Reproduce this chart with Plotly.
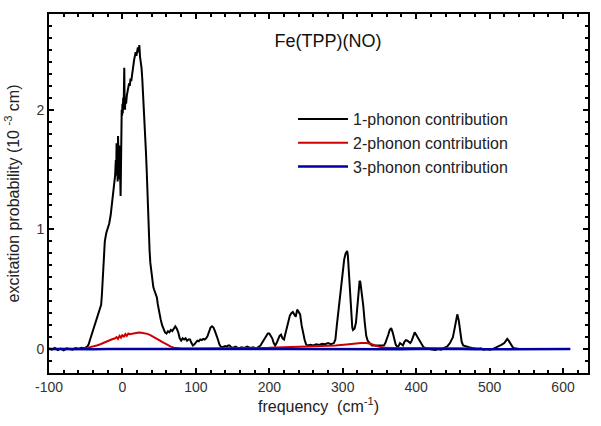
import plotly.graph_objects as go

# ---------------- data ----------------
one_x = [-100,-96,-92,-88,-84,-80,-76,-72,-68,-64,-60,-56,-52,
         -48,-46,-44,-42,-40,-38,-36,-34,-32,-30,-29,-28,-27,-26,-25,-24,-22,-20,-18,-16,-15,-14,-13,-12,-11,-10,
         -9,-8.5,-8,-7.5,-7,-6.5,-6,-5.5,-5,-4.5,-4,-3.5,-3,-2.5,-2,-1.5,-1,-0.5,0,0.5,1,1.5,2,2.5,3,3.5,4,5,6,7,8,9,10,
         11,12,13,14,15,16,17,18,19,20,21,22,23,24,25,26,27,28,29,30,31,32,33,34,35,36,37,38,40,42,43,45,47,48,50,
         52,54,56,58,60,62,64,66,68,70,72,74,76,78,80,82,84,86,88,90,92,94,96,98,100,102,104,106,108,110,112,114,116,
         118,120,122,124,126,128,130,132,134,136,138,140,142,144,146,148,150,154,158,162,166,170,174,178,182,186,188,
         190,192,194,196,198,200,202,204,206,208,210,212,214,216,218,220,222,224,226,228,230,232,234,236,238,240,242,
         244,246,248,250,252,256,260,264,268,272,276,280,284,288,290,292,294,296,298,300,302,304,306,307,308,309,310,
         311,312,313,314,316,318,320,322,323,324,326,328,330,332,334,336,338,340,344,348,352,356,358,360,362,364,366,
         368,370,372,374,376,378,380,382,384,386,388,390,392,394,396,398,400,402,404,406,408,410,414,418,422,426,430,
         434,438,442,446,448,450,452,454,456,458,460,462,464,468,472,476,480,484,488,492,496,500,504,508,512,516,520,
         522,524,526,528,530,532,536,540]
one_y = [0.005,-0.005,0.01,-0.008,0.004,-0.01,0.006,0.0,-0.006,0.008,0.002,0.01,0.006,
         0.02,0.04,0.08,0.12,0.16,0.2,0.23,0.27,0.3,0.34,0.37,0.45,0.58,0.70,0.83,0.9,0.97,1.01,1.05,1.12,1.18,1.26,1.32,1.38,1.42,1.45,
         1.58,1.45,1.72,1.5,1.65,1.40,1.78,1.55,1.75,1.42,1.7,1.3,1.6,1.28,1.5,1.9,2.0,1.95,2.05,1.97,2.1,2.0,2.15,2.35,2.05,2.0,2.1,2.05,2.12,2.15,2.18,2.22,2.2,
         2.26,2.24,2.3,2.32,2.38,2.42,2.45,2.48,2.45,2.5,2.52,2.48,2.54,2.44,2.40,2.35,2.26,2.15,2.07,1.95,1.8,1.65,1.5,1.3,1.12,0.95,0.82,0.72,0.6,0.52,0.50,0.46,0.43,0.38,0.3,
         0.25,0.2,0.16,0.14,0.13,0.15,0.14,0.16,0.15,0.17,0.19,0.17,0.14,0.09,0.07,0.09,0.08,0.09,0.07,0.08,0.08,0.05,0.03,0.04,0.06,0.07,0.065,0.08,0.075,0.085,0.08,0.09,0.11,
         0.15,0.18,0.19,0.18,0.15,0.12,0.08,0.04,0.02,0.015,0.02,0.025,0.02,0.03,0.03,0.015,0.01,0.02,0.005,0.015,0.01,0.02,0.01,0.015,0.005,0.02,0.03,
         0.05,0.07,0.09,0.11,0.13,0.13,0.11,0.09,0.05,0.03,0.05,0.09,0.11,0.12,0.09,0.08,0.13,0.18,0.24,0.28,0.30,0.31,0.29,0.27,0.33,0.31,0.29,
         0.2,0.13,0.08,0.04,0.03,0.035,0.03,0.04,0.035,0.045,0.04,0.05,0.04,0.05,0.08,0.2,0.32,0.45,0.57,0.66,0.75,0.8,0.82,0.78,0.66,0.55,0.42,
         0.34,0.25,0.18,0.16,0.17,0.22,0.35,0.52,0.57,0.56,0.48,0.36,0.22,0.11,0.07,0.05,0.04,0.03,0.03,0.025,0.03,0.03,0.05,0.08,0.12,0.16,0.175,
         0.14,0.08,0.04,0.02,0.025,0.05,0.04,0.03,0.06,0.075,0.07,0.06,0.05,0.07,0.1,0.14,0.12,0.1,0.07,0.05,0.03,0.015,0.005,0.0,-0.005,-0.008,0.0,
         -0.005,0.01,0.02,0.05,0.08,0.1,0.16,0.24,0.29,0.24,0.13,0.06,0.03,0.02,0.015,0.01,0.005,0.0,0.005,-0.005,0.0,-0.005,0.0,0.01,0.02,0.035,0.05,
         0.07,0.085,0.07,0.05,0.02,0.01,0.005,0.0]

two_x = [-100,-80,-60,-55,-52,-48,-44,-40,-35,-30,-25,-20,-15,-10,-8,-6,-4,-2,0,2,4,6,8,10,14,18,22,26,30,34,38,42,46,50,
         54,58,62,66,70,75,80,100,150,200,240,270,290,305,315,325,332,338,344,350,356,370,400,450,490]
two_y = [0.0,0.0,0.0,0.0,0.005,0.01,0.015,0.02,0.03,0.04,0.055,0.07,0.08,0.09,0.1,0.085,0.11,0.095,0.12,0.1,0.125,0.11,0.13,0.125,
         0.13,0.135,0.138,0.137,0.133,0.127,0.117,0.105,0.09,0.075,0.06,0.045,0.03,0.02,0.012,0.007,0.005,0.004,0.005,0.01,0.02,0.025,
         0.03,0.038,0.045,0.05,0.05,0.045,0.03,0.018,0.01,0.008,0.006,0.005,0.004]

three_x = [-100,-80,-60,-40,-20,0,20,40,60,80,100,120,140,160,180,200,220,240,260,280,300,320,340,360,380,400,420,440,
           460,480,500,520,540,560,580,600,610]
three_y = [0.0,-0.002,0.001,-0.001,0.001,0.002,0.002,0.001,0.0,0.001,0.0,-0.001,0.0,0.001,-0.001,0.0,0.001,0.0,0.001,0.0,
           0.001,0.002,0.001,0.0,-0.001,0.0,-0.002,-0.001,0.0,-0.001,0.0,-0.001,0.0,0.0,-0.001,0.0,0.0]

series_names = ["1-phonon contribution", "2-phonon contribution", "3-phonon contribution"]
series_colors = ["#000000", "#cc0000", "#0000a0"]

x_ticks = [-100, 0, 100, 200, 300, 400, 500, 600]
x_ticktext = ["-100", "0", "100", "200", "300", "400", "500", "600"]
y_ticks = [0, 1, 2]
y_ticktext = ["0", "1", "2"]

FONT = "Arial, Liberation Sans, sans-serif"

fig = go.Figure()
for xs, ys, name, col, w in [(one_x, one_y, series_names[0], series_colors[0], 2),
                             (two_x, two_y, series_names[1], series_colors[1], 2),
                             (three_x, three_y, series_names[2], series_colors[2], 2.5)]:
    fig.add_trace(go.Scatter(x=xs, y=ys, mode="lines", name=name,
                             line=dict(color=col, width=w)))

axis_common = dict(showline=True, linecolor="black", linewidth=2, mirror="allticks",
                   ticks="inside", ticklen=5, tickwidth=2, tickcolor="black",
                   showgrid=False, zeroline=False, automargin=False,
                   tickfont=dict(family=FONT, size=14, color="#333333"))

fig.update_xaxes(range=[-100, 634], tickvals=x_ticks, ticktext=x_ticktext,
                 minor=dict(dtick=20, ticks="inside", ticklen=3, tickwidth=1.5, tickcolor="black"),
                 title=dict(text="frequency  (cm<sup>-1</sup>)", font=dict(family=FONT, size=16, color="#222222"),
                            standoff=0),
                 **axis_common)
fig.update_yaxes(range=[-0.2, 2.8], tickvals=y_ticks, ticktext=y_ticktext,
                 minor=dict(dtick=0.1, ticks="inside", ticklen=3, tickwidth=1.5, tickcolor="black"),
                 title=dict(text="excitation probability (10 <sup>-3</sup> cm)",
                            font=dict(family=FONT, size=16, color="#222222"), standoff=13),
                 **axis_common)

fig.update_layout(
    width=601, height=426,
    margin=dict(l=49, r=13, t=14, b=53, autoexpand=False),
    paper_bgcolor="white", plot_bgcolor="white",
    title=dict(text="Fe(TPP)(NO)", x=328/601, xanchor="center", y=1-41/426, yanchor="middle",
               font=dict(family=FONT, size=18, color="#111111"), automargin=False),
    legend=dict(x=(298-49-5)/539, y=1-(102-14)/359, xanchor="left", yanchor="top",
                bgcolor="rgba(0,0,0,0)", borderwidth=0, itemwidth=50,
                font=dict(family=FONT, size=16, color="#222222"), tracegroupgap=0),
    showlegend=True,
)

fig.write_html("out.html", config={"displayModeBar": False},
               post_script="document.body.style.margin='0';document.body.style.overflow='hidden';")
